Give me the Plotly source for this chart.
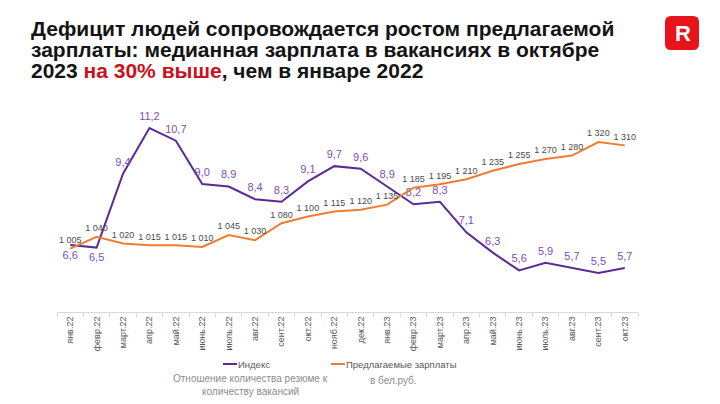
import plotly.graph_objects as go

months = ["янв.22", "февр.22", "март.22", "апр.22", "май.22", "июнь.22", "июль.22", "авг.22",
          "сент.22", "окт.22", "нояб.22", "дек.22", "янв.23", "февр.23", "март.23", "апр.23",
          "май.23", "июнь.23", "июль.23", "авг.23", "сент.23", "окт.23"]
index_vals = [6.6, 6.5, 9.4, 11.2, 10.7, 9.0, 8.9, 8.4, 8.3, 9.1, 9.7, 9.6,
              8.9, 8.2, 8.3, 7.1, 6.3, 5.6, 5.9, 5.7, 5.5, 5.7]
salary_vals = [1005, 1040, 1020, 1015, 1015, 1010, 1045, 1030, 1080, 1100, 1115, 1120,
               1135, 1185, 1195, 1210, 1235, 1255, 1270, 1280, 1320, 1310]

index_text = [f"{v:.1f}".replace(".", ",") for v in index_vals]
salary_text = [f"{v:,}".replace(",", " ") for v in salary_vals]

index_pos = ["top center"] * len(index_vals)
index_pos[0] = "bottom center"
index_pos[1] = "bottom center"

PURPLE = "#5b2a96"
PURPLE_TXT = "#7f4dbb"
ORANGE = "#ed7d31"
FONT = "Liberation Sans, Arial"

# the page body has an 8px margin: figure is drawn 8px in from the window corner
OFF = 8
W, H = 720 - OFF, 404 - OFF
# plot area in window pixels
L, R, T, B = 57, 638, 100, 312
def px(x):
    return (x - L) / (R - L)
def py(y):
    return (B - y) / (B - T)

fig = go.Figure()
fig.add_trace(go.Scatter(
    x=months, y=salary_vals, mode="lines+markers+text", yaxis="y2",
    line=dict(color=ORANGE, width=2), marker=dict(size=4, opacity=0, color=ORANGE),
    text=salary_text, textposition="top center",
    textfont=dict(size=9, color="#4a4a4a", family=FONT),
    name="Предлагаемые зарплаты", showlegend=False, cliponaxis=False, hoverinfo="skip"))
fig.add_trace(go.Scatter(
    x=months, y=index_vals, mode="lines+markers+text",
    line=dict(color=PURPLE, width=2), marker=dict(size=7, opacity=0, color=PURPLE),
    text=index_text, textposition=index_pos,
    textfont=dict(size=11, color=PURPLE_TXT, family=FONT),
    name="Индекс", showlegend=False, cliponaxis=False, hoverinfo="skip"))

annotations = []
title_lines = [
    ("Дефицит людей сопровождается ростом предлагаемой", 29),
    ("зарплаты: медианная зарплата в вакансиях в октябре", 50),
    ("2023 <span style='color:#cc1020'>на 30% выше</span>, чем в январе 2022", 70.5),
]
for txt, yy in title_lines:
    annotations.append(dict(text=f"<b>{txt}</b>", x=px(29), y=py(yy), xref="paper", yref="paper",
                            xanchor="left", yanchor="middle", showarrow=False,
                            font=dict(size=21, color="#141414", family=FONT)))
# logo letter
annotations.append(dict(text="<b>R</b>", x=px(682.5), y=py(33.5), xref="paper", yref="paper",
                        xanchor="center", yanchor="middle", showarrow=False,
                        font=dict(size=22, color="white", family=FONT)))
# legend
annotations.append(dict(text="Индекс", x=px(236), y=py(364), xref="paper", yref="paper",
                        xanchor="left", yanchor="middle", showarrow=False,
                        font=dict(size=9.5, color="#595959", family=FONT)))
annotations.append(dict(text="Предлагаемые зарплаты", x=px(344), y=py(364), xref="paper", yref="paper",
                        xanchor="left", yanchor="middle", showarrow=False,
                        font=dict(size=9.5, color="#595959", family=FONT)))
for txt, xx, yy in [("Отношение количества резюме к", 250, 378), ("количеству вакансий", 250, 391),
                    ("в бел.руб.", 393, 380)]:
    annotations.append(dict(text=txt, x=px(xx), y=py(yy), xref="paper", yref="paper",
                            xanchor="center", yanchor="middle", showarrow=False,
                            font=dict(size=10, color="#8c8c8c", family=FONT)))

shapes = [
    dict(type="line", xref="paper", yref="paper", x0=px(223), x1=px(237), y0=py(364), y1=py(364),
         line=dict(color=PURPLE, width=2)),
    dict(type="line", xref="paper", yref="paper", x0=px(331), x1=px(345), y0=py(364), y1=py(364),
         line=dict(color=ORANGE, width=2)),
]
# rounded red logo square
x0, x1, y0, y1, r = 665, 699, 16, 50, 6
path = (f"M {px(x0 + r)} {py(y0)} L {px(x1 - r)} {py(y0)} Q {px(x1)} {py(y0)} {px(x1)} {py(y0 + r)} "
        f"L {px(x1)} {py(y1 - r)} Q {px(x1)} {py(y1)} {px(x1 - r)} {py(y1)} "
        f"L {px(x0 + r)} {py(y1)} Q {px(x0)} {py(y1)} {px(x0)} {py(y1 - r)} "
        f"L {px(x0)} {py(y0 + r)} Q {px(x0)} {py(y0)} {px(x0 + r)} {py(y0)} Z")
shapes.append(dict(type="path", xref="paper", yref="paper", path=path,
                   fillcolor="#e8141c", line=dict(width=0)))

fig.update_layout(
    width=W, height=H,
    margin=dict(l=L - OFF, r=W - (R - OFF), t=T - OFF, b=H - (B - OFF)),
    paper_bgcolor="white", plot_bgcolor="white",
    xaxis=dict(type="category", range=[-0.5, len(months) - 0.5], showline=True, linecolor="#d9d9d9",
               ticks="outside", tickson="boundaries", ticklen=4, tickcolor="#d9d9d9",
               tickangle=-90, tickfont=dict(size=9, color="#595959", family=FONT),
               showgrid=False, zeroline=False),
    yaxis=dict(range=[3.967, 12.30], visible=False, showgrid=False),
    yaxis2=dict(range=[818, 1444], overlaying="y", visible=False, showgrid=False),
    annotations=annotations, shapes=shapes, showlegend=False,
)
fig.write_html("out.html")
